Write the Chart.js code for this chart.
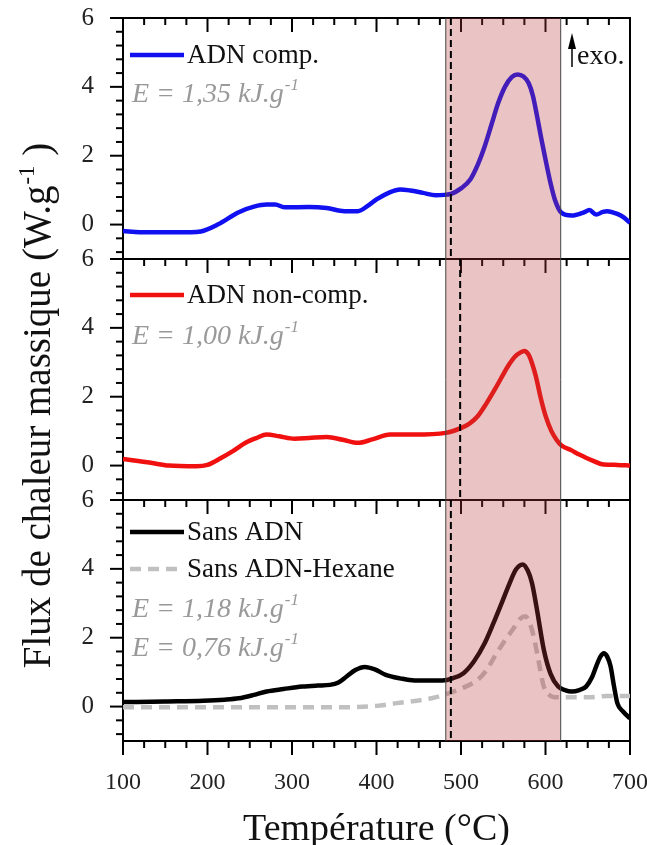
<!DOCTYPE html>
<html>
<head>
<meta charset="utf-8">
<script src="https://cdn.jsdelivr.net/npm/chart.js"></script>
<style>
  body { margin: 0; background: #fff; }
</style>
</head>
<body>
<canvas id="chart" width="647" height="845"></canvas>
<script>
// ADN comp. (top panel)
const tempTop = [100,120,150,180,192,212,237,255,270,280,292,320,341,362,378,390,400,415,428,440,455,470,488,500,511,520,528,536,544,552,560,567,574,580,585,590,595,600,606,611,619,631,645,652,660,668,673,685,693,700];
const fluxTop = [-0.19,-0.22,-0.22,-0.22,-0.2,0.0,0.36,0.52,0.58,0.58,0.5,0.51,0.48,0.39,0.39,0.55,0.73,0.93,1.02,0.99,0.92,0.85,0.89,1.05,1.31,1.75,2.27,2.9,3.53,4.0,4.28,4.36,4.3,4.11,3.75,3.15,2.5,1.89,1.2,0.73,0.34,0.26,0.35,0.42,0.29,0.37,0.39,0.31,0.2,0.05];

// ADN non-comp. (middle panel)
const tempMid = [100,133,154,187,200,216,230,245,258,270,285,303,320,341,360,378,395,416,445,482,499,510,520,530,540,550,557,564,570,575,580,585,589,594,600,607,613,619,630,640,655,669,685,700];
const fluxMid = [0.19,0.08,0.0,-0.02,0.02,0.22,0.42,0.66,0.8,0.9,0.85,0.78,0.8,0.83,0.75,0.66,0.76,0.9,0.9,0.95,1.08,1.22,1.44,1.8,2.21,2.65,2.94,3.17,3.28,3.33,3.22,2.9,2.55,2.0,1.45,1.0,0.75,0.58,0.45,0.32,0.15,0.03,0.02,0.0];

// Sans ADN (bottom panel)
const tempBot = [100,150,195,220,237,255,270,290,312,330,345,355,365,375,386,398,411,428,445,478,490,503,515,528,538,548,557,565,573,579,584,590,598,606,615,623,631,640,648,655,660,665,669,673,677,681,685,692,700];
const fluxBot = [0.13,0.15,0.17,0.2,0.24,0.34,0.44,0.51,0.58,0.61,0.63,0.7,0.88,1.06,1.15,1.08,0.92,0.82,0.76,0.76,0.82,0.97,1.3,1.84,2.4,3.0,3.55,3.98,4.13,3.95,3.59,2.8,1.65,0.95,0.58,0.48,0.44,0.48,0.58,0.85,1.17,1.45,1.55,1.45,1.17,0.6,0.1,-0.15,-0.34];

// Sans ADN-Hexane (bottom panel, dashed)
const tempHex = [100,200,300,362,400,424,445,465,486,503,520,530,540,550,561,570,576,581,586,592,598,604,611,652,673,700];
const fluxHex = [-0.02,-0.02,-0.02,-0.02,0.02,0.1,0.16,0.24,0.39,0.55,0.78,1.05,1.46,1.85,2.23,2.55,2.62,2.45,2.04,1.3,0.58,0.35,0.27,0.27,0.31,0.31];

const yTickValues = [-1, 0, 2, 4, 6];
const xTickStep = 100;
const shadeRange = [482, 618];
const onsetTemps = [488, 499, 488];   // dashed lines, top / middle / bottom
const energyTop = ['1,35'];
const energyMid = ['1,00'];
const energyBot = ['1,18', '0,76'];

const panelIds = ['yTop', 'yMid', 'yBot'];
const SERIF = "'Liberation Serif', 'Times New Roman', serif";

const toXY = (xs, ys) => xs.map((x, i) => ({ x: x, y: ys[i] }));

function lineSeg(ctx, x1, y1, x2, y2) {
  ctx.beginPath();
  ctx.moveTo(x1, y1);
  ctx.lineTo(x2, y2);
  ctx.stroke();
}

// text followed by a raised "-1"
function textSup(ctx, str, sup, x, y, size) {
  ctx.fillText(str, x, y);
  const w = ctx.measureText(str).width;
  const old = ctx.font;
  ctx.font = ctx.font.replace(/\d+px/, Math.round(size * 0.6) + 'px');
  ctx.fillText(sup, x + w + 1, y - size * 0.42);
  const w2 = ctx.measureText(sup).width;
  ctx.font = old;
  return w + w2 + 1;
}

const decorPlugin = {
  id: 'decor',
  beforeDatasetsDraw(chart) {
    const ctx = chart.ctx, xs = chart.scales.x, area = chart.chartArea;
    ctx.save();
    ctx.strokeStyle = '#000';
    ctx.lineWidth = 2;
    panelIds.forEach((id) => {
      const s = chart.scales[id];
      ctx.strokeRect(area.left, s.top, area.right - area.left, s.bottom - s.top);
      // x ticks pointing into the panel from its top
      for (let v = 100; v <= 700; v += 25) {
        const px = xs.getPixelForValue(v);
        lineSeg(ctx, px, s.top, px, s.top + (v % 100 === 0 ? 14 : 7));
      }
      // y ticks pointing out
      for (let k = 0; k <= 17; k++) {
        const v = 6 - 0.4 * k;
        const py = s.getPixelForValue(v);
        lineSeg(ctx, area.left, py, area.left - (k % 5 === 0 ? 13 : 7), py);
      }
    });
    // bottom x ticks
    for (let v = 100; v <= 700; v += 25) {
      const px = xs.getPixelForValue(v);
      lineSeg(ctx, px, area.bottom, px, area.bottom + (v % 100 === 0 ? 14 : 7));
    }
    ctx.restore();
  },
  afterDatasetsDraw(chart) {
    const ctx = chart.ctx, xs = chart.scales.x, area = chart.chartArea;
    ctx.save();
    const x0 = xs.getPixelForValue(shadeRange[0]);
    const x1 = xs.getPixelForValue(shadeRange[1]);
    ctx.fillStyle = 'rgba(185, 60, 60, 0.3)';
    ctx.fillRect(x0, area.top, x1 - x0, area.bottom - area.top);
    ctx.strokeStyle = '#444';
    ctx.lineWidth = 1;
    lineSeg(ctx, x0, area.top, x0, area.bottom);
    lineSeg(ctx, x1, area.top, x1, area.bottom);

    // onset dashed lines
    ctx.strokeStyle = '#000';
    ctx.lineWidth = 2;
    ctx.setLineDash([7, 4]);
    panelIds.forEach((id, i) => {
      const s = chart.scales[id];
      const px = xs.getPixelForValue(onsetTemps[i]);
      lineSeg(ctx, px, s.top, px, s.bottom);
    });
    ctx.setLineDash([]);

    // in-panel legends
    const legends = [
      { id: 'yTop', rows: [{ color: '#1010f0', dash: [], label: 'ADN comp.', dy: 37 }] },
      { id: 'yMid', rows: [{ color: '#f01010', dash: [], label: 'ADN non-comp.', dy: 36 }] },
      { id: 'yBot', rows: [
        { color: '#000', dash: [], label: 'Sans ADN', dy: 32 },
        { color: '#c0c0c0', dash: [11, 7], label: 'Sans ADN-Hexane', dy: 69 }
      ] }
    ];
    ctx.font = '27px ' + SERIF;
    ctx.textBaseline = 'alphabetic';
    ctx.textAlign = 'left';
    legends.forEach((lg) => {
      const s = chart.scales[lg.id];
      lg.rows.forEach((r) => {
        const y = s.top + r.dy;
        ctx.strokeStyle = r.color;
        ctx.lineWidth = 4.5;
        ctx.setLineDash(r.dash);
        lineSeg(ctx, area.left + 7, y, area.left + 61, y);
        ctx.setLineDash([]);
        ctx.fillStyle = '#111';
        ctx.fillText(r.label, area.left + 64, y + 8);
      });
    });

    // energy annotations
    ctx.fillStyle = '#999';
    ctx.font = 'italic 28px ' + SERIF;
    const eRows = [
      { id: 'yTop', vals: energyTop, dy: 84 },
      { id: 'yMid', vals: energyMid, dy: 85 },
      { id: 'yBot', vals: energyBot, dy: 117 }
    ];
    eRows.forEach((r) => {
      const s = chart.scales[r.id];
      r.vals.forEach((v, i) => {
        textSup(ctx, 'E = ' + v + ' kJ.g', '-1', area.left + 9, s.top + r.dy + i * 39, 28);
      });
    });

    // exo. arrow
    const top = chart.scales.yTop.top;
    const ax = xs.getPixelForValue(xs.max) - 58;
    ctx.strokeStyle = '#000';
    ctx.fillStyle = '#000';
    ctx.lineWidth = 1.5;
    lineSeg(ctx, ax, top + 49, ax, top + 22);
    ctx.beginPath();
    ctx.moveTo(ax, top + 15);
    ctx.lineTo(ax - 4, top + 31);
    ctx.lineTo(ax + 4, top + 31);
    ctx.closePath();
    ctx.fill();
    ctx.fillStyle = '#111';
    ctx.font = '28px ' + SERIF;
    ctx.fillText('exo.', ax + 5, top + 46);
    ctx.restore();
  },
  afterDraw(chart) {
    const ctx = chart.ctx, area = chart.chartArea;
    ctx.save();
    ctx.fillStyle = '#111';
    ctx.textBaseline = 'alphabetic';
    // x title
    ctx.font = '38px ' + SERIF;
    ctx.textAlign = 'center';
    ctx.fillText('Température (°C)', (area.left + area.right) / 2, 840);
    // y title with superscript
    ctx.textAlign = 'left';
    const main = 'Flux de chaleur massique (W.g';
    const tail = ' )';
    const size = 39;
    ctx.font = size + 'px ' + SERIF;
    const wMain = ctx.measureText(main).width;
    ctx.font = Math.round(size * 0.6) + 'px ' + SERIF;
    const wSup = ctx.measureText('-1').width;
    ctx.font = size + 'px ' + SERIF;
    const wTail = ctx.measureText(tail).width;
    const total = wMain + wSup + 1 + wTail;
    ctx.translate(50, (area.top + area.bottom) / 2 + 26);
    ctx.rotate(-Math.PI / 2);
    const w = textSup(ctx, main, '-1', -total / 2, 0, size);
    ctx.fillText(tail, -total / 2 + w, 0);
    ctx.restore();
  }
};

function yAxis() {
  return {
    type: 'linear',
    position: 'left',
    stack: 'panels',
    stackWeight: 1,
    min: -1,
    max: 6,
    border: { display: false },
    grid: { display: false },
    afterBuildTicks: (axis) => { axis.ticks = yTickValues.map((v) => ({ value: v })); },
    afterFit: (axis) => { axis.width = 123; axis.paddingTop = 0; axis.paddingBottom = 0; },
    ticks: {
      padding: 21,
      color: '#222',
      font: { family: SERIF, size: 25 },
      callback: (v) => (v < 0 ? '' : String(v))
    }
  };
}

new Chart(document.getElementById('chart'), {
  type: 'line',
  data: {
    datasets: [
      { label: 'ADN comp.', data: toXY(tempTop, fluxTop), yAxisID: 'yTop', borderColor: '#1010f0', borderWidth: 4.5 },
      { label: 'ADN non-comp.', data: toXY(tempMid, fluxMid), yAxisID: 'yMid', borderColor: '#f01010', borderWidth: 4.5 },
      { label: 'Sans ADN-Hexane', data: toXY(tempHex, fluxHex), yAxisID: 'yBot', borderColor: '#c0c0c0', borderWidth: 4.5, borderDash: [11, 7] },
      { label: 'Sans ADN', data: toXY(tempBot, fluxBot), yAxisID: 'yBot', borderColor: '#000', borderWidth: 4.5 }
    ]
  },
  options: {
    responsive: false,
    devicePixelRatio: 1,
    animation: false,
    layout: { padding: { top: 18, right: 17, left: 0, bottom: 0 } },
    elements: {
      point: { radius: 0 },
      line: { cubicInterpolationMode: 'monotone', fill: false, borderCapStyle: 'butt' }
    },
    plugins: { legend: { display: false }, tooltip: { enabled: false } },
    scales: {
      x: {
        type: 'linear',
        min: 100,
        max: 700,
        border: { display: false },
        grid: { display: false },
        afterFit: (axis) => { axis.height = 104; axis.paddingLeft = 0; axis.paddingRight = 0; },
        ticks: {
          stepSize: xTickStep,
          padding: 19,
          color: '#222',
          maxRotation: 0,
          font: { family: SERIF, size: 24 }
        }
      },
      yBot: yAxis(),
      yMid: yAxis(),
      yTop: yAxis()
    }
  },
  plugins: [decorPlugin]
});
</script>
</body>
</html>
